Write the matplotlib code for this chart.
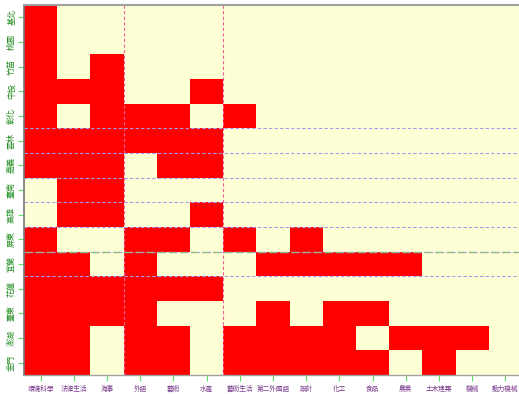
import matplotlib.pyplot as plt
from matplotlib.colors import ListedColormap

plt.rcParams['font.family'] = ['Noto Sans CJK TC', 'DejaVu Sans']

# 各區 (列) x 各群科 (欄)，1 = 有開設
regions = ['基北', '桃園', '竹苗', '中投', '彰化', '雲林', '嘉義', '臺南',
           '高雄', '屏東', '宜蘭', '花蓮', '臺東', '澎湖', '金門']
subjects = ['環境科學', '法律生活', '海事', '外語', '藝術', '水產', '藝術生活',
            '第二外國語', '設計', '化工', '食品', '農業', '土木建築', '機械', '動力機械']
offered = [
    [1, 0, 0, 0, 0, 0, 0, 0, 0, 0, 0, 0, 0, 0, 0],
    [1, 0, 0, 0, 0, 0, 0, 0, 0, 0, 0, 0, 0, 0, 0],
    [1, 0, 1, 0, 0, 0, 0, 0, 0, 0, 0, 0, 0, 0, 0],
    [1, 1, 1, 0, 0, 1, 0, 0, 0, 0, 0, 0, 0, 0, 0],
    [1, 0, 1, 1, 1, 0, 1, 0, 0, 0, 0, 0, 0, 0, 0],
    [1, 1, 1, 1, 1, 1, 0, 0, 0, 0, 0, 0, 0, 0, 0],
    [1, 1, 1, 0, 1, 1, 0, 0, 0, 0, 0, 0, 0, 0, 0],
    [0, 1, 1, 0, 0, 0, 0, 0, 0, 0, 0, 0, 0, 0, 0],
    [0, 1, 1, 0, 0, 1, 0, 0, 0, 0, 0, 0, 0, 0, 0],
    [1, 0, 0, 1, 1, 0, 1, 0, 1, 0, 0, 0, 0, 0, 0],
    [1, 1, 0, 1, 0, 0, 0, 1, 1, 1, 1, 1, 0, 0, 0],
    [1, 1, 1, 1, 1, 1, 0, 0, 0, 0, 0, 0, 0, 0, 0],
    [1, 1, 1, 1, 0, 0, 0, 1, 0, 1, 1, 0, 0, 0, 0],
    [1, 1, 0, 1, 1, 0, 1, 1, 1, 1, 0, 1, 1, 1, 0],
    [1, 1, 0, 1, 1, 0, 1, 1, 1, 1, 1, 0, 1, 0, 0],
]
# 分隔線位置
v_lines = [3, 6]
h_lines = [5, 6, 7, 8, 9, 10, 11]
h_mark = 10

fig = plt.figure(figsize=(5.19, 3.94), dpi=100)
ax = fig.add_axes([24 / 519, 19 / 394, 498 / 519, 370 / 394])

cmap = ListedColormap(['#FFFFD6', '#FF0000'])
ax.pcolormesh(range(len(subjects) + 1), range(len(regions) + 1), offered,
              cmap=cmap, vmin=0, vmax=1, edgecolors='none', antialiased=False)

for x in v_lines:
    ax.axvline(x, color='#F0609A', linestyle=(0, (3, 2)), linewidth=0.8)
for y in h_lines:
    ax.axhline(y, color='#A898F0', linestyle=(0, (3, 2)), linewidth=0.8)
ax.axhline(h_mark, color='#90B890', linestyle=(0, (5, 3)), linewidth=1.0)

ax.set_xlim(0, 15)
ax.set_ylim(15, 0)

ax.set_xticks([i + 0.5 for i in range(len(subjects))])
ax.set_xticklabels(subjects, fontsize=4.8)
ax.set_yticks([i + 0.5 for i in range(len(regions))])
ax.set_yticklabels(regions, fontsize=5.8, rotation=90, va='center')
ax.tick_params(axis='both', colors='#66DD66', length=4, width=0.8)
for lbl in ax.get_xticklabels():
    lbl.set_color('#7A3C8C')
for lbl in ax.get_yticklabels():
    lbl.set_color('#1E8C1E')
ax.tick_params(axis='x', pad=3)
ax.tick_params(axis='y', pad=2)

ax.spines['left'].set_color('#777777')
ax.spines['left'].set_linewidth(1.2)
ax.spines['top'].set_color('#A0A0A0')
ax.spines['top'].set_linewidth(1.5)
ax.spines['bottom'].set_color('#A0A0A0')
ax.spines['bottom'].set_linewidth(1.0)
ax.spines['right'].set_visible(False)

fig.savefig('out.png', dpi=100)
